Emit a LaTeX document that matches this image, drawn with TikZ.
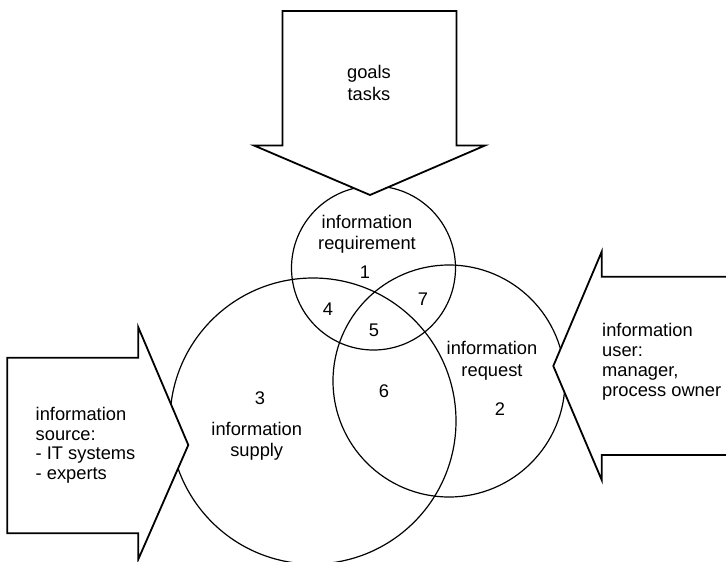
\documentclass[tikz,border=0pt]{standalone}
\usepackage{fontspec}
\setmainfont{Liberation Sans}
\begin{document}
\begin{tikzpicture}[x=1pt,y=-1pt,
  setcircle/.style={circle, draw, line width=1.2pt, inner sep=0pt},
  bigarrow/.style={draw, fill=white, line width=1.8pt, line join=miter},
  lbl/.style={font=\fontsize{18.3}{21.5}\selectfont, inner sep=0pt, align=center},
  lbll/.style={font=\fontsize{18.3}{19.5}\selectfont, inner sep=0pt, align=left, anchor=west},
  num/.style={font=\fontsize{18.3}{21}\selectfont, inner sep=0pt}]
\useasboundingbox (0,0) rectangle (726,562);

% the three overlapping sets
\node[setcircle, minimum size=164pt] (requirement) at (373.5,268) {};
\node[setcircle, minimum size=286pt] (supply) at (313,421) {};
\node[setcircle, minimum size=232pt] (request) at (449,381) {};

% block arrows pointing into the sets
\path[bigarrow] (282.5,11) -- (456.5,11) -- (456.5,145.5) -- (485,145.5)
  -- (370,195) -- (254,145.5) -- (282.5,145.5) -- cycle;
\path[bigarrow] (7.3,357.7) -- (138.3,357.7) -- (138.3,327.3) -- (188.3,445)
  -- (138.3,559.3) -- (138.3,533.3) -- (7.3,533.3) -- cycle;
\path[bigarrow] (740,276.7) -- (601.7,276.7) -- (601.7,251.7) -- (553.3,366)
  -- (601.7,480) -- (601.7,455) -- (740,455);

% arrow labels
\node[lbl] (goals) at (369,82.9) {goals\\tasks};
\node[lbll] (source) at (35.5,445.3) {information\\source:\\- IT systems\\- experts};
\node[lbll, font=\fontsize{18.3}{20}\selectfont] (user) at (602,361.8) {information\\user:\\manager,\\process owner};

% set labels
\node[lbl] (reqlabel) at (367,234.2) {information\\requirement};
\node[lbl] (requestlabel) at (492,361) {information\\request};
\node[lbl, font=\fontsize{18.3}{21}\selectfont] (supplylabel) at (256.7,441.7) {information\\supply};

% region numbers
\node[num] (n1) at (365,272) {1};
\node[num] (n2) at (500,409.5) {2};
\node[num] (n3) at (260,398) {3};
\node[num] (n4) at (328,309) {4};
\node[num] (n5) at (374,330) {5};
\node[num] (n6) at (384,391.5) {6};
\node[num] (n7) at (423,299) {7};
\end{tikzpicture}
\end{document}
